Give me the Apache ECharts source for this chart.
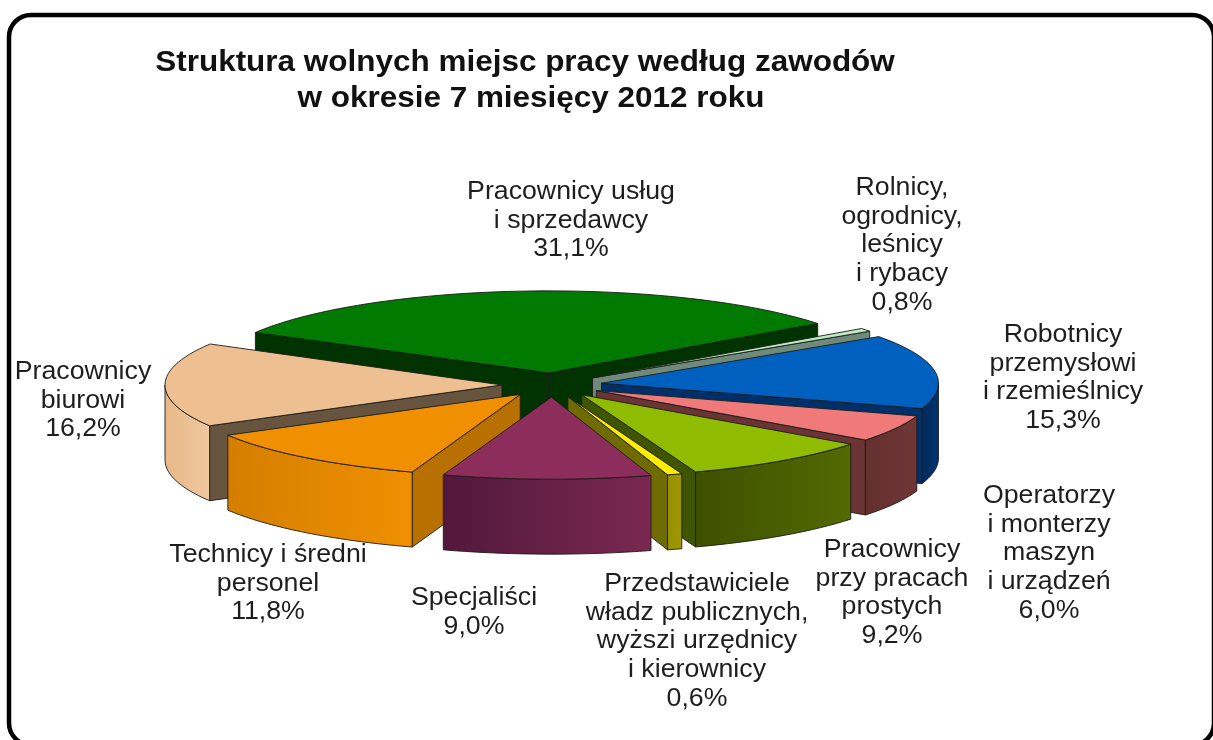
<!DOCTYPE html>
<html lang="pl">

<head>
    <meta charset="UTF-8">
    <title>Struktura wolnych miejsc pracy</title>
    <style>
        * {
            padding: 0;
            margin: 0;
            box-sizing: border-box;
        }

        html,
        body {
            width: 100%;
            height: 100%;
            overflow: hidden;
            background: #fff;
        }

        #box {
            width: 1213px;
            height: 740px;
        }
    </style>
</head>

<body>
    <div id="box"></div>
</body>
<script src="https://cdn.jsdelivr.net/npm/echarts@6/dist/echarts.min.js"></script>
<script>
    // shares in %, clockwise from the big green slice
    var values = [31.1, 0.8, 15.3, 6.0, 9.2, 0.6, 9.0, 11.8, 16.2];
    var names = [
        "Pracownicy usług\ni sprzedawcy",
        "Rolnicy,\nogrodnicy,\nleśnicy\ni rybacy",
        "Robotnicy\nprzemysłowi\ni rzemieślnicy",
        "Operatorzy\ni monterzy\nmaszyn\ni urządzeń",
        "Pracownicy\nprzy pracach\nprostych",
        "Przedstawiciele\nwładz publicznych,\nwyższi urzędnicy\ni kierownicy",
        "Specjaliści",
        "Technicy i średni\npersonel",
        "Pracownicy\nbiurowi"
    ];
    var titleLines = ["Struktura wolnych miejsc pracy według zawodów", "w okresie 7 miesięcy 2012 roku"];

    var topColors = ["#007a00", "#bce8c4", "#0060bf", "#f07a7a", "#8fbc00", "#ffee00", "#8c2d5c", "#f09000", "#eebf90"];
    var cutColors = ["#003300", "#6f8a78", "#00306a", "#6b3434", "#3f5500", "#6e6c00", "#4a1830", "#b87000", "#66543f"];
    var wallFrom = ["#005000", "#8aa894", "#003470", "#703636", "#526a00", "#a09a00", "#7a2850", "#f09000", "#f0c8a0"];
    var wallTo = ["#003300", "#6f8a78", "#002a5c", "#643030", "#3f5000", "#968f00", "#52183c", "#d47e00", "#e8b888"];
    // label centre x and y of the first line
    var labelPos = [[571, 192], [902, 188], [1063, 335], [1049, 496], [892, 550], [697, 584], [474, 598], [268, 555], [83, 372]];
    var titlePos = [[525, 63], [531, 99]];

    // projection of the pie
    var cx = 552, cy = 385, rx = 337, ry = 82, depth = 75, explode = 50, startAngle = -60.5;
    // the 3D view squeezes the angles a bit, degrees per slice boundary
    var edgeNudge = [0, 1.5, 1, -1.4, -4, -3.9, -3.5, 0, -1, 0.5];

    var rad = Math.PI / 180;
    var total = values.reduce(function (a, b) { return a + b; }, 0);
    var slices = [];
    var acc = 0;
    for (var i = 0; i < values.length; i++) {
        var a1 = startAngle + acc / total * 360 + edgeNudge[i];
        acc += values[i];
        var a2 = startAngle + acc / total * 360 + edgeNudge[i + 1];
        var mid = (a1 + a2) / 2;
        slices.push({
            index: i,
            a1: a1,
            a2: a2,
            mid: mid,
            ox: cx + explode * Math.sin(mid * rad),
            oy: cy - explode * ry / rx * Math.cos(mid * rad)
        });
    }

    // back slices first
    var drawOrder = slices.slice().sort(function (a, b) {
        return Math.cos(b.mid * rad) - Math.cos(a.mid * rad);
    }).map(function (s) { return s.index; });

    function rimPoint(s, a, drop) {
        return [s.ox + rx * Math.sin(a * rad), s.oy - ry * Math.cos(a * rad) + drop];
    }

    function arc(s, from, to, drop) {
        var pts = [];
        var n = Math.max(2, Math.ceil(Math.abs(to - from) / 2));
        for (var k = 0; k <= n; k++) {
            pts.push(rimPoint(s, from + (to - from) * k / n, drop));
        }
        return pts;
    }

    function poly(points, fill) {
        return {
            type: "polygon",
            shape: { points: points },
            style: { fill: fill, stroke: "#1c1c1c", lineWidth: 0.9, lineJoin: "round" }
        };
    }

    function cutFace(s, a, i) {
        var r = rimPoint(s, a, 0);
        return poly([[s.ox, s.oy], r, [r[0], r[1] + depth], [s.ox, s.oy + depth]], cutColors[i]);
    }

    function renderSlice(params, api) {
        var i = api.value(0);
        var s = slices[i];
        var children = [];
        if (Math.sin(s.a1 * rad) < 0) children.push(cutFace(s, s.a1, i));
        if (Math.sin(s.a2 * rad) > 0) children.push(cutFace(s, s.a2, i));

        // outer wall, only the part turned to the viewer
        var w1 = Math.max(s.a1, 90), w2 = Math.min(s.a2, 270);
        if (w2 > w1) {
            var top = arc(s, w1, w2, 0);
            var bottom = arc(s, w2, w1, depth);
            children.push(poly(top.concat(bottom), new echarts.graphic.LinearGradient(0, 0, 1, 0, [
                { offset: 0, color: wallTo[i] },
                { offset: 1, color: wallFrom[i] }
            ])));
        }
        children.push(poly([[s.ox, s.oy]].concat(arc(s, s.a1, s.a2, 0)), topColors[i]));
        return { type: "group", children: children };
    }

    // the source text is stretched sideways, so text gets a scaleX
    function textItem(text, pos, font, lineHeight, stretch, fill) {
        return {
            type: "text",
            z: 10,
            x: pos[0],
            y: pos[1] - lineHeight / 2,
            scaleX: stretch,
            style: {
                text: text,
                x: 0,
                y: 0,
                align: "center",
                verticalAlign: "top",
                font: font,
                lineHeight: lineHeight,
                fill: fill
            }
        };
    }

    var graphics = [{
        type: "rect",
        z: -1,
        shape: { x: 9, y: 15, width: 1205, height: 730, r: 22 },
        style: { fill: "#fff", stroke: "#000", lineWidth: 4.5 }
    }];
    for (var t = 0; t < titleLines.length; t++) {
        graphics.push(textItem(titleLines[t], titlePos[t], "bold 29px 'Liberation Sans', Arial, sans-serif", 36, 1.085, "#111"));
    }
    for (var j = 0; j < values.length; j++) {
        var label = names[j] + "\n" + values[j].toFixed(1).replace(".", ",") + "%";
        graphics.push(textItem(label, labelPos[j], "25px 'Liberation Sans', Arial, sans-serif", 28.7, 1.068, "#1e1e1e"));
    }

    var box = echarts.init(document.getElementById("box"));
    box.setOption({
        animation: false,
        backgroundColor: "#fff",
        graphic: graphics,
        series: [{
            type: "custom",
            coordinateSystem: "none",
            silent: true,
            data: drawOrder,
            renderItem: renderSlice
        }]
    });
</script>

</html>
